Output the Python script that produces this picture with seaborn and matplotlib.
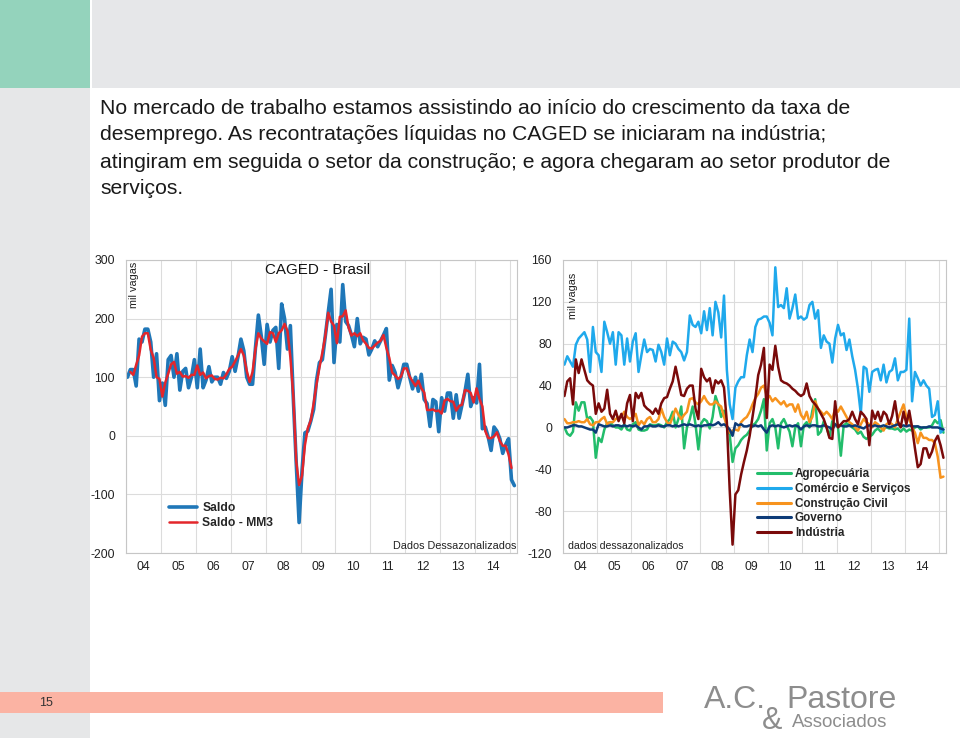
import numpy as np
import pandas as pd
import matplotlib
matplotlib.use("Agg")
import matplotlib.pyplot as plt
from matplotlib.patches import Rectangle
from matplotlib.lines import Line2D
from matplotlib.ticker import FixedLocator, MultipleLocator, NullFormatter
import matplotlib.transforms as mtransforms
import seaborn as sns

# ---------------- data (mil vagas, monthly, Jan 2004 - Feb 2015) ----------------
start_year = 2004
year_labels = ["04", "05", "06", "07", "08", "09", "10", "11", "12", "13", "14"]

saldo = [100, 113, 113, 85, 165, 160, 182, 182, 160, 100, 140, 60,
         90, 52, 130, 137, 100, 140, 78, 110, 115, 82, 100, 130,
         82, 148, 82, 95, 118, 92, 100, 100, 88, 108, 98, 110,
         135, 110, 135, 165, 145, 100, 88, 88, 150, 206, 170, 122,
         190, 160, 180, 185, 115, 225, 200, 148, 188, 65, -45, -148,
         -60, 5, 8, 25, 45, 95, 125, 130, 170, 210, 250, 125,
         190, 160, 258, 195, 188, 172, 152, 200, 157, 168, 165, 138,
         148, 162, 152, 162, 172, 183, 95, 120, 108, 82, 100, 122,
         122, 100, 80, 100, 76, 105, 62, 55, 16, 62, 58, 7,
         65, 42, 73, 73, 30, 70, 30, 53, 75, 105, 50, 65,
         56, 122, 12, 15, -2, -25, 15, 8, -5, -30, -15, -5,
         -75, -85]

saldo_mm3 = [np.nan, 109, 104, 121, 137, 169, 175, 175, 147, 133, 100, 97,
             67, 91, 106, 122, 126, 106, 109, 101, 102, 99, 104, 104,
             120, 104, 108, 98, 102, 103, 97, 96, 99, 98, 105, 114,
             118, 127, 137, 148, 137, 111, 92, 109, 148, 175, 166, 161,
             157, 177, 175, 160, 175, 180, 191, 179, 134, 69, -43, -84,
             -68, -16, 13, 26, 55, 88, 117, 142, 170, 210, 195, 188,
             158, 203, 204, 214, 185, 171, 175, 170, 175, 163, 157, 150,
             149, 154, 159, 162, 172, 150, 133, 108, 103, 97, 101, 115,
             115, 101, 93, 85, 94, 81, 74, 44, 44, 45, 42, 43,
             38, 60, 63, 59, 58, 43, 51, 53, 78, 77, 73, 57,
             81, 63, 50, 8, -4, -4, -1, 6, -9, -17, -17, -32,
             -55, np.nan]

agropecuaria = [0, -6, -8, -4, 24, 16, 24, 24, 8, 10, 6, -29,
                -10, -14, -2, 4, 5, 2, 0, 0, -2, 3, -2, -3,
                3, 5, -2, -3, -3, -2, 3, 2, 2, 3, 2, 0,
                5, 8, 15, 0, 8, 20, -20, 0, 8, 20, 3, -21,
                4, 8, 6, -1, 10, 30, 22, 10, 16, 0, -7, -33,
                -20, -17, -12, -9, -7, -3, 2, 4, 8, 16, 27, -22,
                4, 8, 0, -20, 4, 8, 2, -4, -18, 0, 4, -18,
                2, 5, 0, 16, 27, -7, -4, 6, 0, -9, 6, 3,
                0, -27, 2, 4, 2, 0, -2, -6, -4, -9, -11, -9,
                -7, -3, -1, -4, -1, 0, -1, -1, -2, -1, -4, -1,
                -4, -2, -3, 0, 1, -2, 0, 0, 0, 2, 7, 4,
                7, -5]

comercio_servicos = [60, 68, 63, 58, 79, 85, 88, 91, 84, 53, 96, 72,
                     69, 53, 101, 91, 80, 91, 60, 91, 88, 60, 85, 63,
                     82, 90, 53, 69, 84, 72, 75, 74, 63, 79, 72, 60,
                     85, 69, 82, 80, 75, 72, 64, 72, 107, 98, 96, 101,
                     90, 111, 93, 114, 88, 120, 110, 86, 126, 55, 22, 8,
                     38, 44, 48, 48, 69, 84, 72, 96, 103, 104, 106, 106,
                     100, 88, 153, 115, 117, 114, 133, 104, 114, 127, 104, 106,
                     103, 105, 117, 120, 104, 112, 76, 88, 82, 80, 62, 85,
                     98, 88, 90, 74, 84, 68, 55, 37, 13, 58, 56, 34,
                     53, 55, 56, 45, 60, 43, 53, 55, 66, 45, 53, 53,
                     55, 104, 25, 53, 47, 40, 45, 40, 37, 10, 12, 25,
                     -5, -2]

construcao_civil = [8, 4, 4, 5, 5, 6, 5, 5, 8, 3, 2, 5,
                    5, 8, 10, 3, 5, 5, 8, 10, 10, 15, 10, 8,
                    10, 13, 2, 6, 3, 8, 10, 5, 5, 8, 18, 10,
                    5, 3, 10, 18, 12, 8, 12, 15, 27, 28, 24, 22,
                    25, 30, 25, 22, 22, 25, 22, 20, 10, 2, -5, -3,
                    -2, -3, 5, 8, 10, 15, 22, 28, 32, 38, 40, 30,
                    30, 25, 28, 25, 22, 25, 20, 22, 22, 15, 22, 12,
                    8, 15, 5, 10, 25, 18, 15, 12, 15, 12, 8, 18,
                    15, 20, 15, 10, 5, 3, 0, -3, 3, 8, 5, 3,
                    0, 5, 3, 0, -3, 3, 5, 3, 0, 8, 15, 22,
                    10, 8, 0, -5, -15, -5, -10, -10, -12, -12, -15, -28,
                    -48, -47]

governo = [0, 0, 1, 2, 2, 1, 1, 0, -1, -2, -2, -5,
           3, 2, 1, 1, 2, 1, 2, 2, 1, 2, 1, 2,
           1, 2, 0, -2, 1, 1, 2, 1, 1, 2, 1, 1,
           2, 2, 1, 2, 1, 2, 3, 2, 3, 2, 1, 2,
           1, 2, 2, 3, 2, 3, 5, 2, 3, 1, -2, -8,
           4, 2, 3, 1, 1, 2, 1, 2, 1, 2, -2, -5,
           1, 2, 1, 2, 1, 0, 1, 2, 1, 2, 1, -2,
           1, 2, 1, 2, 2, 1, 1, 2, 1, 0, -2, 3,
           1, 2, 1, 1, 2, 1, 2, 1, 0, -1, 1, 2,
           1, 2, 1, 1, 2, 1, 0, 1, 2, 3, 1, 2,
           1, 2, 1, 1, 1, 0, 0, 0, 1, 0, 0, 0,
           -1, -2]

industria = [30, 44, 47, 22, 65, 52, 65, 55, 45, 42, 40, 13,
             23, 15, 18, 36, 13, 8, 16, 6, 13, 4, 23, 31,
             6, 33, 28, 33, 21, 18, 16, 13, 18, 13, 23, 28,
             29, 37, 44, 58, 45, 31, 30, 37, 40, 40, 18, 8,
             56, 48, 44, 47, 33, 45, 42, 45, 38, 5, -60, -112,
             -64, -60, -45, -33, -22, -8, 10, 28, 50, 60, 76, 9,
             60, 55, 78, 58, 45, 43, 42, 40, 37, 35, 32, 30,
             32, 42, 30, 25, 22, 18, 13, 8, 0, -10, -11, 25,
             0, 3, 6, 6, 8, 15, 8, 3, 15, 12, 8, -17,
             16, 8, 15, 6, 15, 12, 3, 11, 25, 6, 0, 15,
             3, 16, 0, -20, -38, -35, -20, -20, -29, -23, -13, -8,
             -17, -29]

left_names = ["Saldo", "Saldo - MM3"]
right_names = ["Agropecuária", "Comércio e Serviços", "Construção Civil", "Governo", "Indústria"]

# ---------------- style ----------------
sns.set_style("white")
plt.rcParams["font.family"] = ["Liberation Sans", "DejaVu Sans"]
plt.rcParams["axes.unicode_minus"] = False

W, H = 960, 738
fig = plt.figure(figsize=(W / 100, H / 100), dpi=100)


def fx(px):
    return px / W


def fy(py):
    return 1 - py / H


def rect(x0, y0, x1, y1, color):
    fig.add_artist(Rectangle((fx(x0), fy(y1)), fx(x1) - fx(x0), fy(y0) - fy(y1),
                             transform=fig.transFigure, color=color, lw=0, zorder=0))


# slide background
rect(0, 88, 90, 738, "#e6e7e8")
rect(0, 0, 90, 88, "#94d3bc")
rect(92, 0, 960, 88, "#e6e7e9")
rect(0, 692, 663, 713, "#fbb3a3")
fig.text(fx(46), fy(703), "15", fontsize=9, color="#333333", ha="center", va="center")

# logo
narrow = ["Liberation Sans Narrow", "Liberation Sans", "DejaVu Sans"]
fig.text(fx(704), fy(708), "A.C.", fontsize=23, color="#8d8d8d", family=narrow, va="baseline")
fig.text(fx(786), fy(708), "Pastore", fontsize=23, color="#8d8d8d", family=narrow, va="baseline")
fig.text(fx(762), fy(729), "&", fontsize=22, color="#8d8d8d", family=narrow, va="baseline")
fig.text(fx(792), fy(727), "Associados", fontsize=13.5, color="#8d8d8d", family=narrow, va="baseline")

# title text
title_lines = [
    "No mercado de trabalho estamos assistindo ao início do crescimento da taxa de",
    "desemprego. As recontratações líquidas no CAGED se iniciaram na indústria;",
    "atingiram em seguida o setor da construção; e agora chegaram ao setor produtor de",
    "serviços.",
]
for k, line in enumerate(title_lines):
    fig.text(fx(100), fy(108 + 27 * k), line, fontsize=15.2, color="#1a1a1a", va="center")

# ---------------- data frames ----------------
n = len(saldo)
t = start_year + (np.arange(n) + 0.5) / 12.0

left_df = pd.DataFrame({"t": t, "Saldo": saldo, "Saldo - MM3": saldo_mm3})
right_df = pd.DataFrame({"t": t,
                         "Agropecuária": agropecuaria,
                         "Comércio e Serviços": comercio_servicos,
                         "Construção Civil": construcao_civil,
                         "Governo": governo,
                         "Indústria": industria})
right_long = right_df.melt(id_vars="t", var_name="serie", value_name="v")

left_colors = {"Saldo": "#1f77b8", "Saldo - MM3": "#e3262b"}
right_colors = {"Agropecuária": "#22bd6b", "Comércio e Serviços": "#1fa9ec",
                "Construção Civil": "#f7931e", "Governo": "#0d3b78", "Indústria": "#7a0a0a"}

grid_c = "#dcdcdc"
spine_c = "#c6c6c6"
tick_fs = 8.8


def style_axes(ax, ylim, ystep):
    ax.set_xlim(2004.0, 2015.2)
    ax.set_ylim(*ylim)
    ax.xaxis.set_major_locator(FixedLocator(list(range(2004, 2016))))
    ax.xaxis.set_minor_locator(MultipleLocator(1 / 12))
    ax.xaxis.set_major_formatter(NullFormatter())
    ax.yaxis.set_major_locator(MultipleLocator(ystep))
    ax.grid(True, which="major", color=grid_c, lw=0.8)
    ax.set_axisbelow(True)
    ax.tick_params(axis="x", which="major", length=5, direction="inout", color="#a8a8a8", width=0.8)
    ax.tick_params(axis="x", which="minor", length=2.5, direction="in", color="#a8a8a8", width=0.6)
    ax.tick_params(axis="y", which="major", length=3, direction="out", color="#a8a8a8",
                   labelsize=tick_fs, pad=5, labelcolor="#222222")
    for s in ax.spines.values():
        s.set_color(spine_c)
        s.set_linewidth(0.8)
    ax.set_xlabel("")
    ax.set_ylabel("")
    trans = mtransforms.blended_transform_factory(ax.transData, ax.transAxes)
    for k, lab in enumerate(year_labels):
        ax.text(start_year + k + 0.5, -0.048, lab, transform=trans, ha="center", va="center",
                fontsize=tick_fs, color="#222222")


# ---------------- left chart ----------------
ax1 = fig.add_axes([fx(126), fy(553), fx(517) - fx(126), fy(260) - fy(553)])
sns.lineplot(data=left_df, x="t", y="Saldo", color=left_colors["Saldo"], lw=2.6,
             ax=ax1, estimator=None, sort=False)
sns.lineplot(data=left_df, x="t", y="Saldo - MM3", color=left_colors["Saldo - MM3"], lw=1.8,
             ax=ax1, estimator=None, sort=False)
style_axes(ax1, (-200, 300), 100)
ax1.set_yticks([-200, -100, 0, 100, 200, 300])

h1 = [Line2D([], [], color=left_colors["Saldo"], lw=2.6),
      Line2D([], [], color=left_colors["Saldo - MM3"], lw=1.8)]
ax1.legend(h1, left_names, loc="upper left",
           bbox_to_anchor=((169 - 126) / 391, (553 - 502) / 293),
           frameon=False, prop={"weight": "bold", "size": 8.7},
           handlelength=2.3, handletextpad=0.45, labelspacing=0.25,
           borderpad=0, borderaxespad=0)

fig.text(fx(318), fy(270), "CAGED - Brasil", fontsize=10.9, ha="center", va="center", color="#111111")
fig.text(fx(134), fy(262), "mil vagas", fontsize=7.8, rotation=90, ha="center", va="top", color="#222222")
fig.text(fx(516), fy(546), "Dados Dessazonalizados", fontsize=7.8, ha="right", va="center", color="#222222")

# ---------------- right chart ----------------
ax2 = fig.add_axes([fx(563), fy(553), fx(946) - fx(563), fy(260) - fy(553)])
sns.lineplot(data=right_long, x="t", y="v", hue="serie", hue_order=right_names,
             palette=right_colors, lw=1.8, ax=ax2, estimator=None, sort=False, legend=False)
style_axes(ax2, (-120, 160), 40)

h2 = [Line2D([], [], color=right_colors[nm], lw=2.2) for nm in right_names]
ax2.legend(h2, right_names, loc="upper left",
           bbox_to_anchor=((757 - 563) / 383, (553 - 468) / 293),
           frameon=False, prop={"weight": "bold", "size": 8.4},
           handlelength=2.9, handletextpad=0.35, labelspacing=0.24,
           borderpad=0, borderaxespad=0)

fig.text(fx(573), fy(273), "mil vagas", fontsize=7.8, rotation=90, ha="center", va="top", color="#222222")
fig.text(fx(568), fy(546), "dados dessazonalizados", fontsize=7.6, ha="left", va="center", color="#222222")

fig.savefig("out.png", dpi=100)
